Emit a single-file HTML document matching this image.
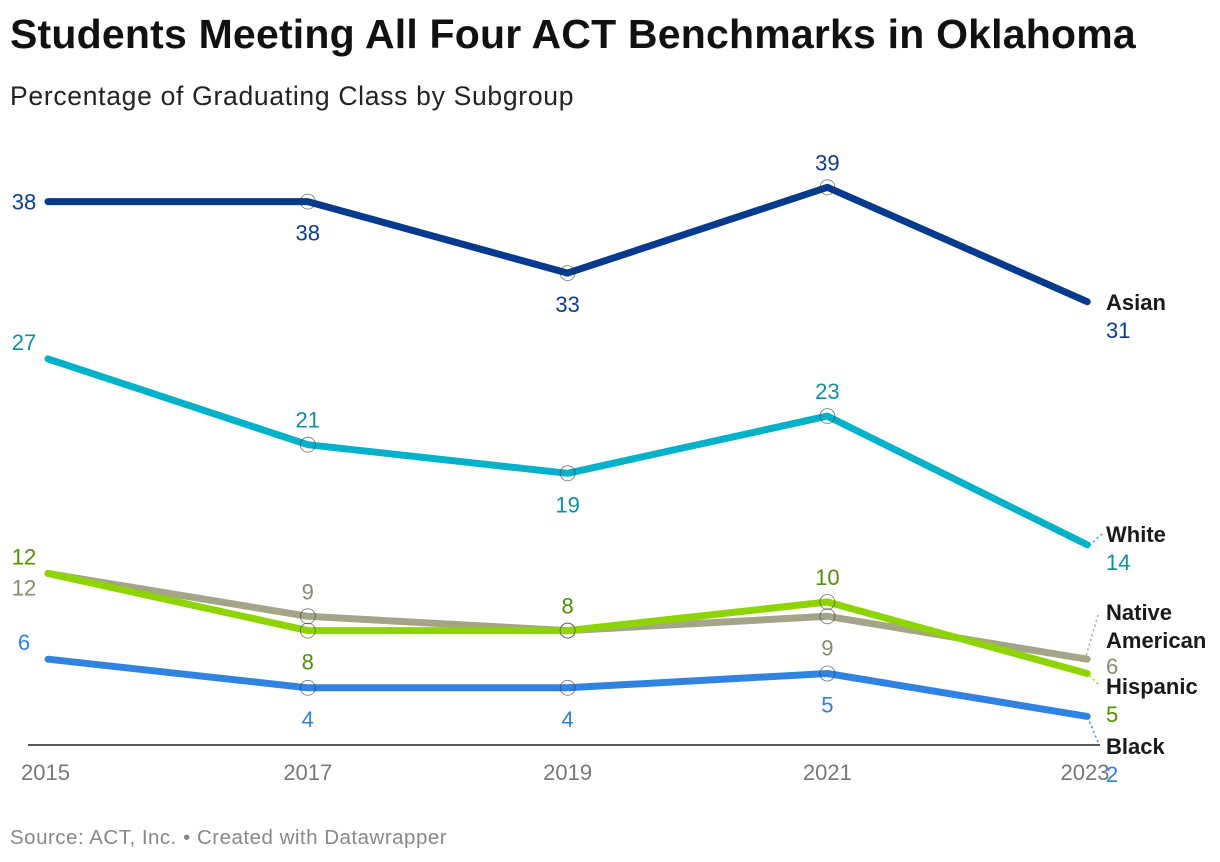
<!DOCTYPE html>
<html><head><meta charset="utf-8"><style>
body{margin:0;background:#fff;width:1220px;height:862px;overflow:hidden;font-family:"Liberation Sans",sans-serif}
#title{position:absolute;left:10px;top:11px;font-size:41px;font-weight:bold;color:#111;letter-spacing:0.2px;white-space:nowrap}
#sub{position:absolute;left:10px;top:81px;font-size:26.5px;color:#222;letter-spacing:0.7px;white-space:nowrap}
#src{position:absolute;left:10px;top:826px;font-size:20.5px;color:#888;letter-spacing:0.5px;white-space:nowrap}
svg{position:absolute;left:0;top:0}
</style></head><body>
<div id="title">Students Meeting All Four ACT Benchmarks in Oklahoma</div>
<div id="sub">Percentage of Graduating Class by Subgroup</div>
<div id="src">Source: ACT, Inc. • Created with Datawrapper</div>
<svg id="chart" width="1220" height="862"></svg>
<script>
const years=[2015,2017,2019,2021,2023];
const asian=[38,38,33,39,31];
const white=[27,21,19,23,14];
const native=[12,9,8,9,6];
const hispanic=[12,8,8,10,5];
const black=[6,4,4,5,2];
const NS="http://www.w3.org/2000/svg",svg=document.getElementById('chart');
const x=i=>48+i*259.8, y=v=>745-v*14.3;
function el(t,a,p){const e=document.createElementNS(NS,t);for(const k in a)e.setAttribute(k,a[k]);(p||svg).appendChild(e);return e;}
const axis=el('line',{x1:28,x2:1100,y1:745,y2:745,stroke:'#222','stroke-width':1.5});


years.forEach((yr,i)=>{const t=el('text',{x:i==0?21:(i==4?1085:x(i)),y:780,'text-anchor':i==0?'start':'middle','font-size':22,fill:'#777'});t.textContent=yr;

});
const series=[
{name:'Native American',d:native,c:'#a4a588',lc:'#8a8a6a',pos:['b','a',null,'b'],nm:['Native','American'],ny:612,vy:666,lead:[1098,615,1085,660]},
{name:'Hispanic',d:hispanic,c:'#8ed400',lc:'#4f8f00',pos:['a','b','a','a'],nm:['Hispanic'],ny:686,vy:714,lead:[1098,684,1090,676]},
{name:'Black',d:black,c:'#3183e2',lc:'#2f7fe0',pos:['a','b','b','b'],nm:['Black'],ny:746,vy:774,lead:[1098,742,1088,718]},
{name:'White',d:white,c:'#00b2c9',lc:'#0e8fa2',pos:['a','a','b','a'],nm:['White'],ny:534,vy:562,lead:[1102,534,1090,545]},
{name:'Asian',d:asian,c:'#063a8e',lc:'#0d3b8f',pos:['l','b','b','a'],nm:['Asian'],ny:302,vy:330,lead:null}];
series.forEach(s=>{
 const g=el('g',{});
 
 
 const p=el('polyline',{points:s.d.map((v,i)=>x(i)+','+y(v)).join(' '),fill:'none',stroke:s.c,'stroke-width':7,'stroke-linejoin':'round','stroke-linecap':'round'},g);
 
 s.d.forEach((v,i)=>{
  if(i>0&&i<4){const c=el('circle',{cx:x(i),cy:y(v),r:7.5,fill:'none',stroke:'#333','stroke-width':0.8,opacity:0.7},g);
  }
  if(i<4&&s.pos[i]){const t=el('text',{'font-size':22,fill:s.lc,'text-anchor':'middle'},g);
   if(i==0){t.setAttribute('x',24);t.setAttribute('y',s.pos[i]=='b'?y(v)+22:(s.pos[i]=='l'?y(v)+8:y(v)-9));}
   else{t.setAttribute('x',x(i));t.setAttribute('y',s.pos[i]=='a'?y(v)-17:y(v)+39);}
   t.textContent=v;
   }
 });
 s.nm.forEach((n,k)=>{const t=el('text',{x:1106,y:s.ny+k*28+8,'font-size':22,'font-weight':'bold',fill:'#1a1a1a'},g);t.textContent=n;
 });
 const v=el('text',{x:1106,y:s.vy+8,'font-size':22,fill:s.lc},g);v.textContent=s.d[4];
 
 if(s.lead){const l=el('line',{x1:s.lead[0],y1:s.lead[1],x2:s.lead[2],y2:s.lead[3],stroke:s.c,'stroke-width':1.5,'stroke-dasharray':'2,3'},g);
 }
});
</script>
</body></html>
